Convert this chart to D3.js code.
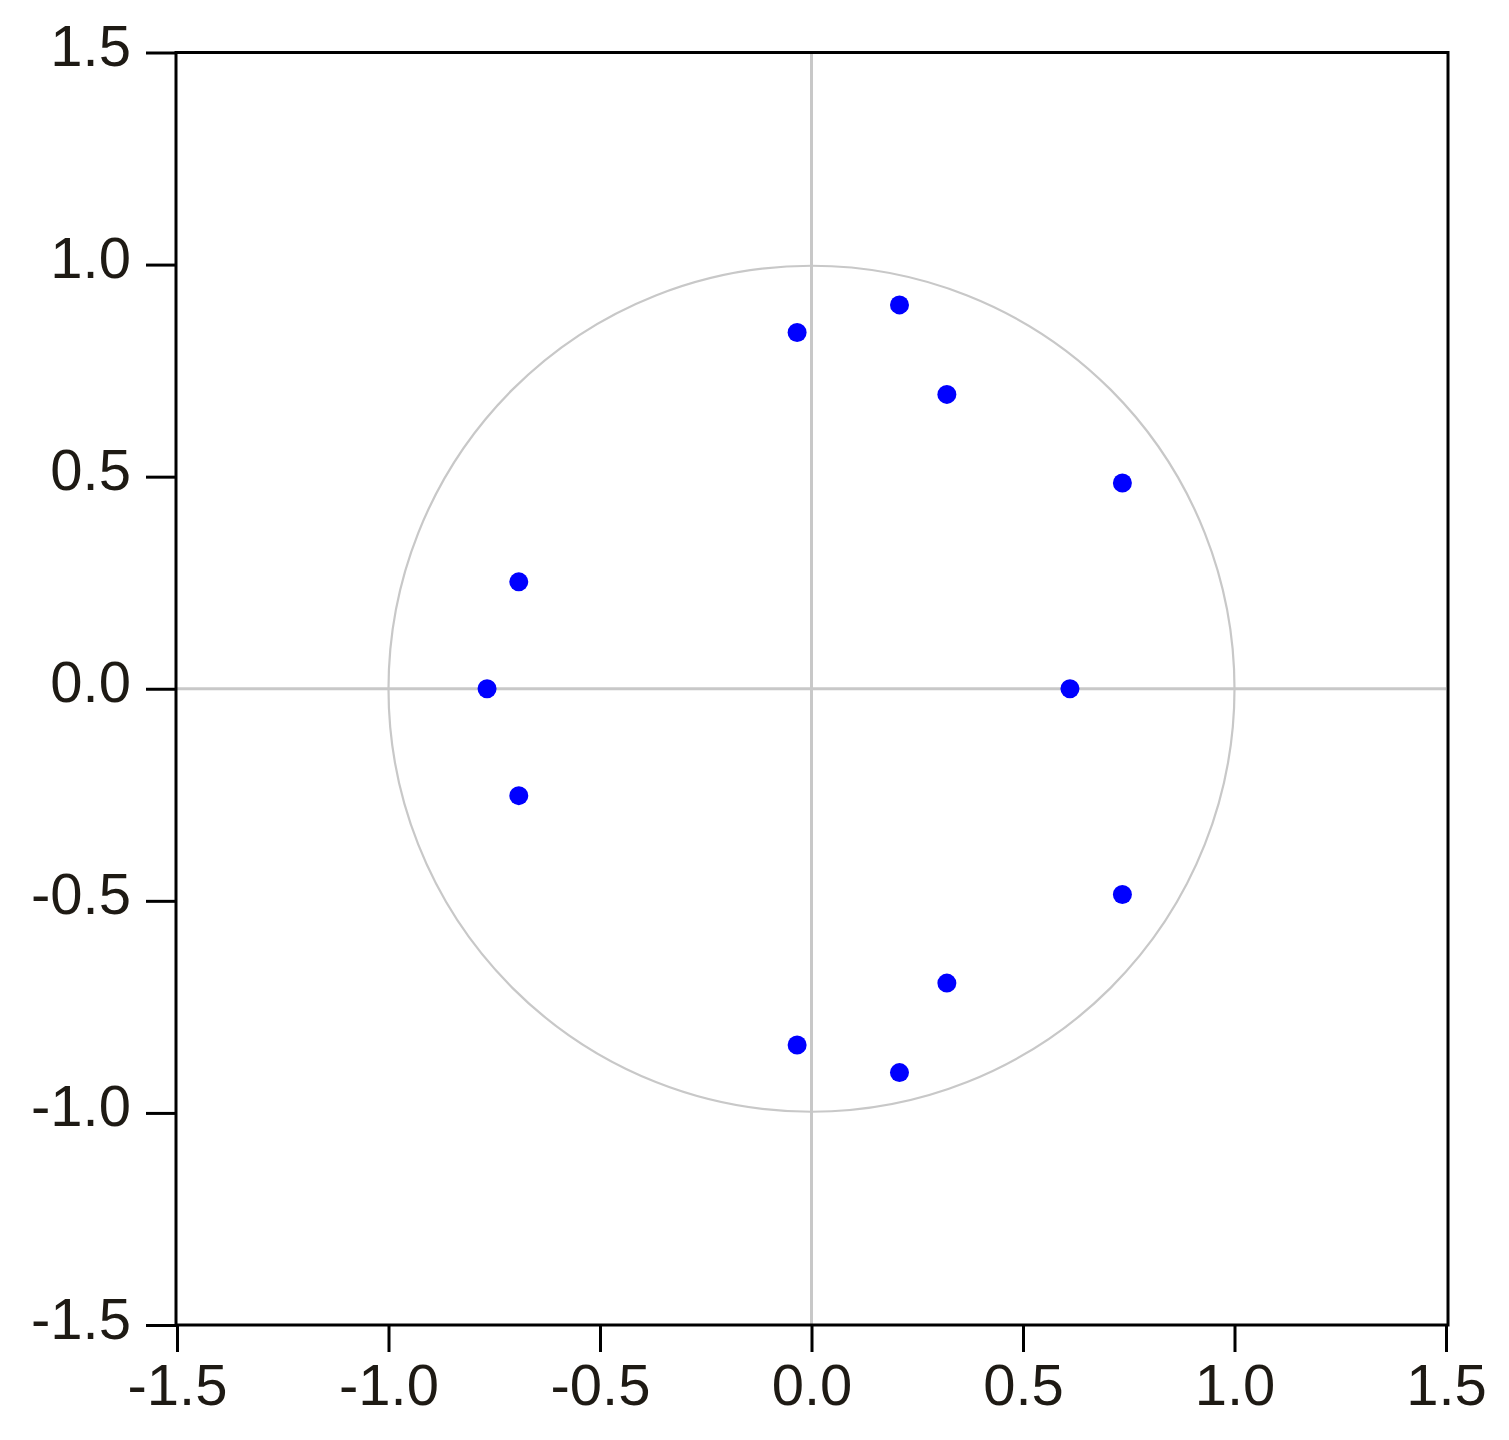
<!DOCTYPE html>
<html>
<head>
<meta charset="utf-8">
<script src="https://cdn.jsdelivr.net/npm/d3@7"></script>
<style>
  html, body { margin: 0; padding: 0; background: #fff; }
  svg { display: block; }
</style>
</head>
<body>
<svg id="chart" width="1509" height="1440"></svg>
<script>
const rootReal = [-0.034, -0.034, 0.208, 0.208, 0.320, 0.320, 0.735, 0.735, -0.692, -0.692, -0.767, 0.611];
const rootImag = [0.840, -0.840, 0.905, -0.905, 0.694, -0.694, 0.485, -0.485, 0.252, -0.252, 0.0, 0.0];
const tickValues = [-1.5, -1.0, -0.5, 0.0, 0.5, 1.0, 1.5];
const tickLabels = ["-1.5", "-1.0", "-0.5", "0.0", "0.5", "1.0", "1.5"];

const svg = d3.select("#chart");
const pLeft = 177, pRight = 1446, pTop = 52.5, pBottom = 1325;

const x = d3.scaleLinear().domain([-1.5, 1.5]).range([pLeft, pRight]);
const y = d3.scaleLinear().domain([-1.5, 1.5]).range([pBottom, pTop]);

const grey = "#c8c8c8";
const textColor = "#1e1a14";
const fontFamily = "'Liberation Sans', Arial, sans-serif";

// reference lines
svg.append("line")
  .attr("x1", x(0)).attr("x2", x(0)).attr("y1", pTop).attr("y2", pBottom)
  .attr("stroke", grey).attr("stroke-width", 3);
svg.append("line")
  .attr("x1", pLeft).attr("x2", pRight).attr("y1", y(0)).attr("y2", y(0))
  .attr("stroke", grey).attr("stroke-width", 3);

// unit circle
svg.append("circle")
  .attr("cx", x(0)).attr("cy", y(0))
  .attr("r", x(1) - x(0))
  .attr("fill", "none").attr("stroke", grey).attr("stroke-width", 2.2);

// frame
svg.append("rect")
  .attr("x", pLeft - 1).attr("y", pTop)
  .attr("width", pRight - pLeft + 3).attr("height", pBottom - pTop)
  .attr("fill", "none").attr("stroke", "#000").attr("stroke-width", 3);

// axes
const xAxis = d3.axisBottom(x).tickValues(tickValues)
  .tickFormat((d, i) => tickLabels[i]).tickSize(27).tickSizeOuter(0);
const yAxis = d3.axisLeft(y).tickValues(tickValues)
  .tickFormat((d, i) => tickLabels[i]).tickSize(30).tickSizeOuter(0);

const gx = svg.append("g").attr("transform", `translate(0,${pBottom})`).call(xAxis);
const gy = svg.append("g").attr("transform", `translate(${pLeft - 1},0)`).call(yAxis);

[gx, gy].forEach(g => {
  g.select(".domain").remove();
  g.selectAll(".tick line").attr("stroke", "#000").attr("stroke-width", 3);
  g.selectAll(".tick text")
    .attr("fill", textColor)
    .attr("font-family", fontFamily)
    .attr("font-size", 58);
});
gx.selectAll(".tick text").attr("dy", null).attr("y", 80);
gy.selectAll(".tick text").attr("dy", null).attr("x", -45).attr("y", 13);

// points
const pts = rootReal.map((re, i) => ({ re, im: rootImag[i] }));
svg.append("g").selectAll("circle")
  .data(pts).join("circle")
  .attr("cx", d => x(d.re))
  .attr("cy", d => y(d.im))
  .attr("r", 9.5)
  .attr("fill", "#0000ff");
</script>
</body>
</html>
